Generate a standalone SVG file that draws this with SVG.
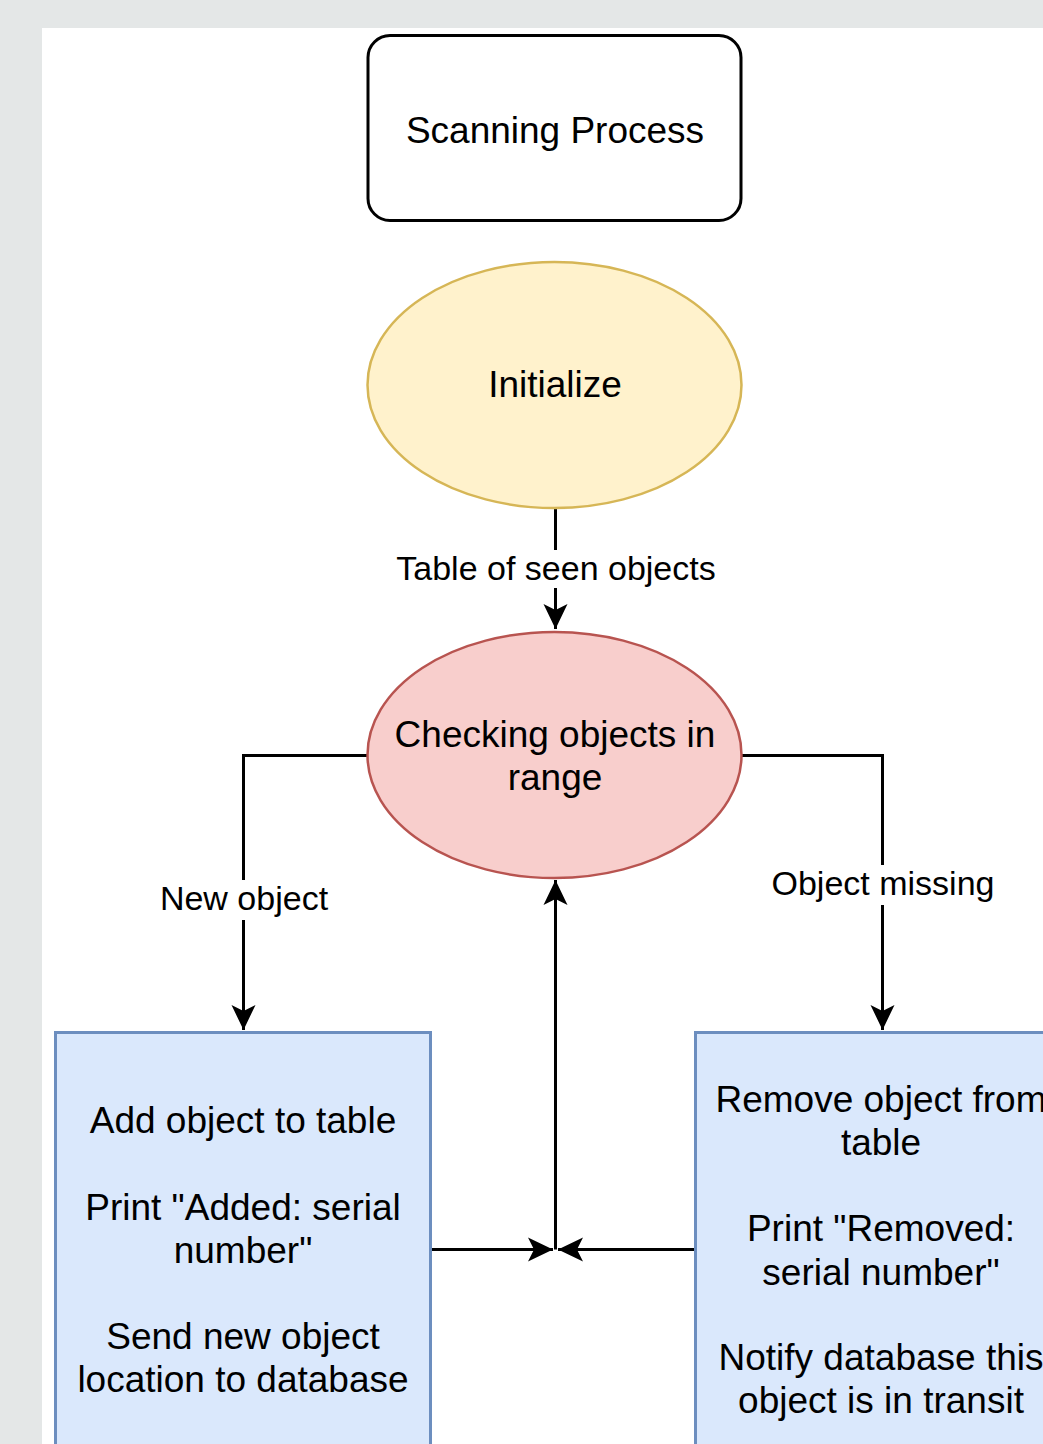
<svg xmlns="http://www.w3.org/2000/svg" width="1043" height="1444" viewBox="0 0 1043 1444">
<style>
  text { font-family: "Liberation Sans", Arial, sans-serif; fill: #000; text-anchor: middle; }
  .node { font-size: 37px; }
  .lbl { font-size: 34px; }
  .edge { fill: none; stroke: #000; stroke-width: 3; }
  .arr { marker-end: url(#arrow); }
</style>
<defs>
  <marker id="arrow" markerUnits="userSpaceOnUse" viewBox="-26 -14 28 28" markerWidth="28" markerHeight="28" refX="0" refY="0" orient="auto">
    <path d="M0 0 L-25 -12 L-19 0 L-25 12 Z" fill="#000" stroke="none"/>
  </marker>
</defs>
<rect x="0" y="0" width="1043" height="1444" fill="#e4e7e7"/>
<rect x="42" y="28" width="1001" height="1416" fill="#ffffff"/>

<g id="connectors">
  <path class="edge arr" d="M555.5 508 V629"/>
  <path class="edge arr" d="M367 755.5 H243.5 V1030"/>
  <path class="edge arr" d="M742 755.5 H882.5 V1030"/>
  <path class="edge arr" d="M431 1249.5 H553"/>
  <path class="edge arr" d="M695 1249.5 H558"/>
  <path class="edge arr" d="M555.5 1249.5 V880"/>
  <g id="edge-labels">
    <rect x="392" y="550" width="328" height="38" fill="#fff"/>
    <text class="lbl" x="556" y="580">Table of seen objects</text>
    <rect x="156" y="880" width="176" height="40" fill="#fff"/>
    <text class="lbl" x="244" y="910">New object</text>
    <rect x="767" y="865" width="232" height="40" fill="#fff"/>
    <text class="lbl" x="883" y="895">Object missing</text>
  </g>
</g>

<g id="scanning-process">
  <rect x="368" y="35.5" width="373" height="185" rx="22" ry="22" fill="#fff" stroke="#000" stroke-width="3"/>
  <text class="node" x="555" y="143">Scanning Process</text>
</g>

<g id="initialize">
  <ellipse cx="554.5" cy="385" rx="187" ry="123" fill="#fff2cc" stroke="#d6b656" stroke-width="2.5"/>
  <text class="node" x="555" y="397">Initialize</text>
</g>

<g id="checking">
  <ellipse cx="554.5" cy="755" rx="187" ry="123" fill="#f8cecc" stroke="#b85450" stroke-width="2.5"/>
  <text class="node" x="555" y="747">Checking objects in</text>
  <text class="node" x="555" y="790">range</text>
</g>

<g id="add-object">
  <rect x="55.5" y="1032.5" width="375" height="500" fill="#dae8fc" stroke="#6c8ebf" stroke-width="3"/>
  <text class="node" x="243" y="1133">Add object to table</text>
  <text class="node" x="243" y="1220">Print "Added: serial</text>
  <text class="node" x="243" y="1263">number"</text>
  <text class="node" x="243" y="1349">Send new object</text>
  <text class="node" x="243" y="1392">location to database</text>
</g>

<g id="remove-object">
  <rect x="695.5" y="1032.5" width="373" height="500" fill="#dae8fc" stroke="#6c8ebf" stroke-width="3"/>
  <text class="node" x="881" y="1112">Remove object from</text>
  <text class="node" x="881" y="1155">table</text>
  <text class="node" x="881" y="1241">Print "Removed:</text>
  <text class="node" x="881" y="1285">serial number"</text>
  <text class="node" x="881" y="1370">Notify database this</text>
  <text class="node" x="881" y="1413">object is in transit</text>
</g>
</svg>
